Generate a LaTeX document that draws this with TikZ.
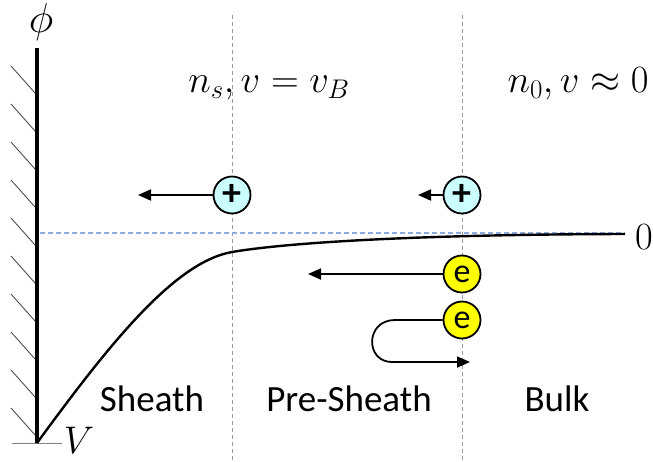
\RequirePackage{fix-cm}
\documentclass[tikz,border=0pt]{standalone}
\usepackage{fontspec}
\setmainfont{Carlito}
\usetikzlibrary{arrows.meta}
\definecolor{ioncol}{HTML}{CCFFFF}
\definecolor{elcol}{HTML}{FFFF00}
\definecolor{zerocol}{HTML}{8FAADC}
\tikzset{
  particle/.style={circle, draw=black, line width=1.8pt, minimum size=37pt, inner sep=0pt},
  ion/.style={particle, fill=ioncol, font=\fontsize{38}{38}\selectfont\bfseries},
  electron/.style={particle, fill=elcol, font=\fontsize{34}{34}\selectfont},
  motion/.style={line width=1.8pt, -{Triangle[length=13pt,width=11pt]}},
  divider/.style={gray!80, line width=0.9pt, dash pattern=on 4pt off 3pt},
  hatch/.style={black!70, line width=0.9pt},
  region/.style={font=\fontsize{37}{40}\selectfont, anchor=base},
  mathlbl/.style={font=\fontsize{38.5}{40}\selectfont},
}
\begin{document}
\begin{tikzpicture}[x=1pt,y=-1pt]
\useasboundingbox (0,0) rectangle (653,461);
% dividers
\draw[divider] (232,15) -- (232,461);
\draw[divider] (462,15) -- (462,461);
% zero level
\draw[zerocol, line width=1.2pt, dash pattern=on 5pt off 3pt] (40,233) -- (625,233);
% hatching
\foreach \i in {0,...,9} {
  \draw[hatch] (11,{66+38*\i}) -- (35,{93+38*\i});
}
\draw[gray, line width=0.9pt] (12,443) -- (62,443);
% wall
\draw[line width=4.5pt] (37,48) -- (37,443);
% potential curve
\draw[line width=2.4pt] (37,443) .. controls (110,343) and (175,262) .. (232,252)
  .. controls (285,243) and (410,234.5) .. (625,234);
% labels
\node[mathlbl, font=\fontsize{42}{44}\selectfont] (phi) at (41,22) {$\phi$};
\node[mathlbl] (vlab) at (79,440) {$V$};
\node[mathlbl] (zero) at (644,237) {$0$};
\node[mathlbl] (lsheath) at (269,88) {$n_s, v = v_B$};
\node[mathlbl] (lbulk) at (578,84) {$n_0, v \approx 0$};
\node[region] (tsheath) at (152,411) {Sheath};
\node[region] (tpre) at (349,411) {Pre-Sheath};
\node[region] (tbulk) at (557,411) {Bulk};
% particles
\node[ion] (ion1) at (232,195) {+};
\node[ion] (ion2) at (462,195) {+};
\node[electron] (el1) at (462,274) {e};
\node[electron] (el2) at (462,320) {e};
\coordinate (ion1end) at (138,195);
\coordinate (ion2end) at (418,195);
\coordinate (el1end) at (308,274);
\coordinate (curlA) at (395,320);
\coordinate (curlB) at (392,362);
\coordinate (curlend) at (470,362);
\draw[motion] (ion1) -- (ion1end);
\draw[motion] (ion2) -- (ion2end);
\draw[motion] (el1) -- (el1end);
\draw[motion] (el2.west) -- (curlA) .. controls (365,320) and (365,362) .. (curlB) -- (curlend);
\end{tikzpicture}
\end{document}
